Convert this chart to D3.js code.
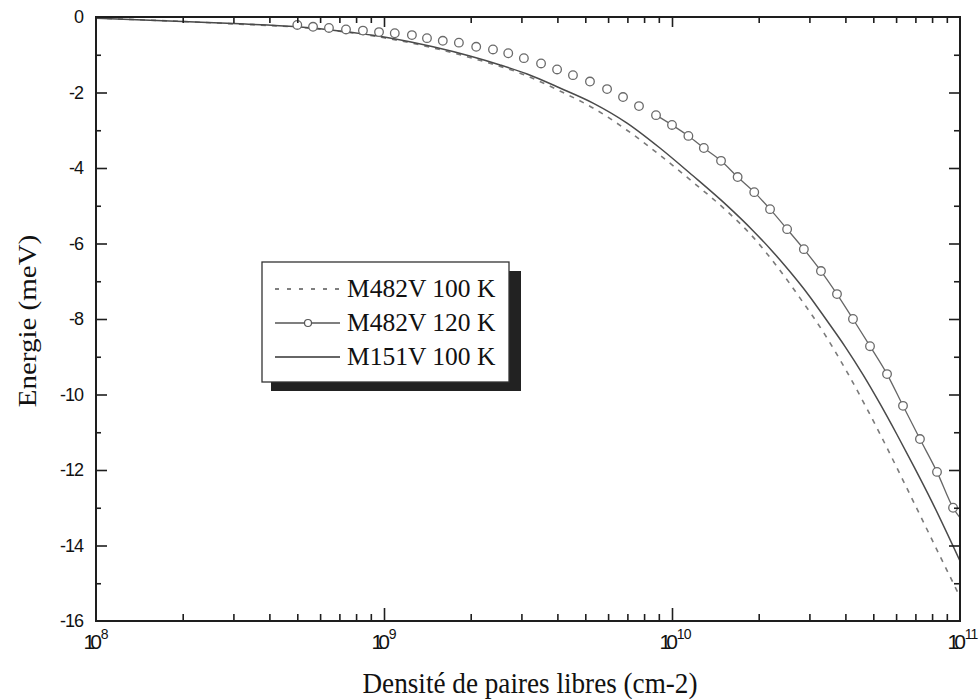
<!DOCTYPE html>
<html><head><meta charset="utf-8">
<script src="https://cdn.jsdelivr.net/npm/d3@7"></script>
<style>body{margin:0;background:#fff}</style>
</head><body>
<svg id="c" width="980" height="699"></svg>
<script>
// ---- data ----
const xDecades = [1e8, 1e9, 1e10, 1e11];
const xDecadeExp = ["8", "9", "10", "11"];
const yTicksMajor = [0, -2, -4, -6, -8, -10, -12, -14, -16];
const yTickLabels = ["0", "-2", "-4", "-6", "-8", "-10", "-12", "-14", "-16"];
const yTicksMinor = [-1, -3, -5, -7, -9, -11, -13, -15];

const seriesNames = ["M482V 100 K", "M482V 120 K", "M151V 100 K"];

// M482V 100 K (dashed)
const nDashed = [1e8, 2e8, 3.16e8, 5e8, 1e9, 2e9, 3.14e9, 4.08e9, 5.32e9, 6.98e9, 9.08e9, 1.18e10, 1.55e10, 1.87e10, 2.28e10, 2.78e10, 3.40e10, 4.05e10, 4.68e10, 5.28e10, 6.19e10, 7.26e10, 8.52e10, 1e11];
const eDashed = [-0.03, -0.12, -0.19, -0.27, -0.55, -1.08, -1.56, -1.96, -2.41, -3.00, -3.66, -4.37, -5.14, -5.75, -6.54, -7.44, -8.42, -9.40, -10.28, -11.05, -12.11, -13.19, -14.28, -15.36];

// M482V 120 K (circles)
const nCircles = [5.0e8, 5.67e8, 6.44e8, 7.38e8, 8.45e8, 9.61e8, 1.09e9, 1.25e9, 1.41e9, 1.60e9, 1.82e9, 2.09e9, 2.39e9, 2.70e9, 3.06e9, 3.51e9, 3.99e9, 4.53e9, 5.19e9, 5.95e9, 6.76e9, 7.68e9, 8.80e9, 1.0e10, 1.14e10, 1.29e10, 1.48e10, 1.69e10, 1.93e10, 2.19e10, 2.51e10, 2.87e10, 3.29e10, 3.74e10, 4.25e10, 4.87e10, 5.58e10, 6.34e10, 7.26e10, 8.32e10, 9.46e10];
const eCircles = [-0.21, -0.26, -0.29, -0.33, -0.36, -0.40, -0.43, -0.48, -0.56, -0.63, -0.68, -0.79, -0.86, -0.96, -1.09, -1.23, -1.39, -1.54, -1.71, -1.91, -2.12, -2.36, -2.60, -2.86, -3.15, -3.47, -3.81, -4.24, -4.64, -5.09, -5.62, -6.15, -6.73, -7.34, -8.00, -8.72, -9.46, -10.30, -11.18, -12.05, -13.00];
// connecting line of the circle series (visible only on the steep part)
const nCircleLine = [8.80e9, 1.0e10, 1.14e10, 1.29e10, 1.48e10, 1.69e10, 1.93e10, 2.19e10, 2.51e10, 2.87e10, 3.29e10, 3.74e10, 4.25e10, 4.87e10, 5.58e10, 6.34e10, 7.26e10, 8.32e10, 9.46e10, 1.08e11];
const eCircleLine = [-2.60, -2.86, -3.15, -3.47, -3.81, -4.24, -4.64, -5.09, -5.62, -6.15, -6.73, -7.34, -8.00, -8.72, -9.46, -10.30, -11.18, -12.05, -13.00, -13.55];

// M151V 100 K (solid)
const nSolid = [1e8, 2e8, 3.16e8, 5e8, 7e8, 1e9, 1.48e9, 2e9, 2.53e9, 3.14e9, 4.08e9, 5.32e9, 6.98e9, 9.08e9, 1.18e10, 1.55e10, 1.9e10, 2.21e10, 2.57e10, 2.97e10, 3.42e10, 3.99e10, 4.61e10, 5.28e10, 6.04e10, 6.92e10, 7.93e10, 1e11];
const eSolid = [-0.03, -0.12, -0.18, -0.26, -0.37, -0.53, -0.79, -1.04, -1.27, -1.51, -1.88, -2.28, -2.81, -3.47, -4.20, -4.99, -5.64, -6.17, -6.75, -7.35, -8.00, -8.73, -9.48, -10.25, -11.06, -11.91, -12.79, -14.41];

const xTitle = "Densité de paires libres (cm-2)";
const yTitle = "Energie (meV)";

// ---- drawing ----
const svg = d3.select("#c");
const L = 96, R = 960, T = 17, B = 621;
const x = d3.scaleLog().domain([1e8, 1e11]).range([L, R]);
const y = d3.scaleLinear().domain([0, -16]).range([T, B]);
const axisColor = "#1e1e1e";

svg.append("defs").append("clipPath").attr("id", "plotclip")
  .append("rect").attr("x", L).attr("y", T).attr("width", R - L).attr("height", B - T);

const plot = svg.append("g").attr("clip-path", "url(#plotclip)");
const line = d3.line().x(d => x(d[0])).y(d => y(d[1])).curve(d3.curveMonotoneX);

plot.append("path").datum(d3.zip(nDashed, eDashed))
  .attr("d", line).attr("fill", "none").attr("stroke", "#7a7a7a")
  .attr("stroke-width", 1.6).attr("stroke-dasharray", "5,6");

plot.append("path").datum(d3.zip(nSolid, eSolid))
  .attr("d", line).attr("fill", "none").attr("stroke", "#4a4a4a")
  .attr("stroke-width", 1.5);

plot.append("path").datum(d3.zip(nCircleLine, eCircleLine))
  .attr("d", line).attr("fill", "none").attr("stroke", "#666")
  .attr("stroke-width", 1.3);

plot.selectAll("circle.pt").data(d3.zip(nCircles, eCircles)).join("circle")
  .attr("class", "pt").attr("cx", d => x(d[0])).attr("cy", d => y(d[1]))
  .attr("r", 4.3).attr("fill", "#fff").attr("stroke", "#6a6a6a").attr("stroke-width", 1.3);

// axes
const minorX = x.ticks().filter(v => !xDecades.includes(v));
function styleAxis(g) {
  g.select(".domain").remove();
  g.selectAll(".tick line").attr("stroke", axisColor).attr("stroke-width", 1.6);
}
// bottom
svg.append("g").attr("transform", `translate(0,${B})`)
  .call(d3.axisBottom(x).tickValues(xDecades.slice(1, 3)).tickSize(-13).tickFormat(""))
  .call(styleAxis);
svg.append("g").attr("transform", `translate(0,${B})`)
  .call(d3.axisBottom(x).tickValues(minorX).tickSize(-7).tickFormat(""))
  .call(styleAxis);
// top
svg.append("g").attr("transform", `translate(0,${T})`)
  .call(d3.axisTop(x).tickValues(xDecades.slice(1, 3)).tickSize(-10).tickFormat(""))
  .call(styleAxis);
svg.append("g").attr("transform", `translate(0,${T})`)
  .call(d3.axisTop(x).tickValues(minorX).tickSize(-6).tickFormat(""))
  .call(styleAxis);
// left
svg.append("g").attr("transform", `translate(${L},0)`)
  .call(d3.axisLeft(y).tickValues(yTicksMajor.slice(1, -1)).tickSize(-11).tickFormat(""))
  .call(styleAxis);
svg.append("g").attr("transform", `translate(${L},0)`)
  .call(d3.axisLeft(y).tickValues(yTicksMinor).tickSize(-5).tickFormat(""))
  .call(styleAxis);
// right
svg.append("g").attr("transform", `translate(${R},0)`)
  .call(d3.axisRight(y).tickValues(yTicksMajor.slice(1, -1)).tickSize(-11).tickFormat(""))
  .call(styleAxis);
svg.append("g").attr("transform", `translate(${R},0)`)
  .call(d3.axisRight(y).tickValues(yTicksMinor).tickSize(-6).tickFormat(""))
  .call(styleAxis);

// y tick labels
const yl = svg.append("g").attr("transform", `translate(${L},0)`)
  .call(d3.axisLeft(y).tickValues(yTicksMajor).tickSize(0).tickPadding(13)
    .tickFormat((d, i) => yTickLabels[i]));
yl.select(".domain").remove();
yl.selectAll("text").attr("font-family", "Liberation Sans, Arial, sans-serif")
  .attr("font-size", 18).attr("fill", "#111").attr("letter-spacing", "-1px");

// x tick labels (10 with superscript)
const xl = svg.append("g").attr("transform", `translate(0,${B})`)
  .call(d3.axisBottom(x).tickValues(xDecades).tickSize(0).tickFormat(""));
xl.select(".domain").remove();
xl.selectAll(".tick").each(function(d, i) {
  const t = d3.select(this).append("text").attr("fill", "#111")
    .attr("font-family", "Liberation Sans, Arial, sans-serif")
    .attr("text-anchor", "start").attr("y", 28);
  t.append("tspan").attr("x", -13).attr("font-size", 21).attr("letter-spacing", "-5px").text("10");
  t.append("tspan").attr("dx", 4).attr("dy", -10).attr("font-size", 14).attr("letter-spacing", "-1px").text(xDecadeExp[i]);
});

// frame
svg.append("rect").attr("x", L).attr("y", T).attr("width", R - L).attr("height", B - T)
  .attr("fill", "none").attr("stroke", axisColor).attr("stroke-width", 2);

// titles
svg.append("text").attr("x", 530).attr("y", 693).attr("text-anchor", "middle")
  .attr("font-family", "Liberation Serif, Times New Roman, serif").attr("font-size", 29)
  .attr("textLength", 335).attr("lengthAdjust", "spacingAndGlyphs").attr("fill", "#111")
  .text(xTitle);
svg.append("text").attr("transform", "translate(36,321) scale(0.84,1) rotate(-90)")
  .attr("text-anchor", "middle")
  .attr("font-family", "Liberation Serif, Times New Roman, serif").attr("font-size", 29)
  .attr("fill", "#111").text(yTitle);

// legend
const lg = svg.append("g");
lg.append("rect").attr("x", 271).attr("y", 271).attr("width", 250).attr("height", 120).attr("fill", "#222");
lg.append("rect").attr("x", 262).attr("y", 262).attr("width", 247).attr("height", 120)
  .attr("fill", "#fff").attr("stroke", "#333").attr("stroke-width", 1.3);
const rowY = [289, 323, 357];
const sx0 = 275, sx1 = 340, tx = 347;
lg.append("line").attr("x1", sx0).attr("x2", sx1).attr("y1", rowY[0]).attr("y2", rowY[0])
  .attr("stroke", "#555").attr("stroke-width", 1.3).attr("stroke-dasharray", "4,8");
lg.append("line").attr("x1", sx0).attr("x2", sx1).attr("y1", rowY[1]).attr("y2", rowY[1])
  .attr("stroke", "#555").attr("stroke-width", 1.3);
lg.append("circle").attr("cx", 308).attr("cy", rowY[1]).attr("r", 3.5)
  .attr("fill", "#fff").attr("stroke", "#555").attr("stroke-width", 1.2);
lg.append("line").attr("x1", sx0).attr("x2", sx1).attr("y1", rowY[2]).attr("y2", rowY[2])
  .attr("stroke", "#333").attr("stroke-width", 1.3);
lg.selectAll("text.lt").data(seriesNames).join("text").attr("class", "lt")
  .attr("x", tx).attr("y", (d, i) => rowY[i] + 8)
  .attr("font-family", "Liberation Serif, Times New Roman, serif").attr("font-size", 25.5)
  .attr("fill", "#111").text(d => d);
</script>
</body></html>
